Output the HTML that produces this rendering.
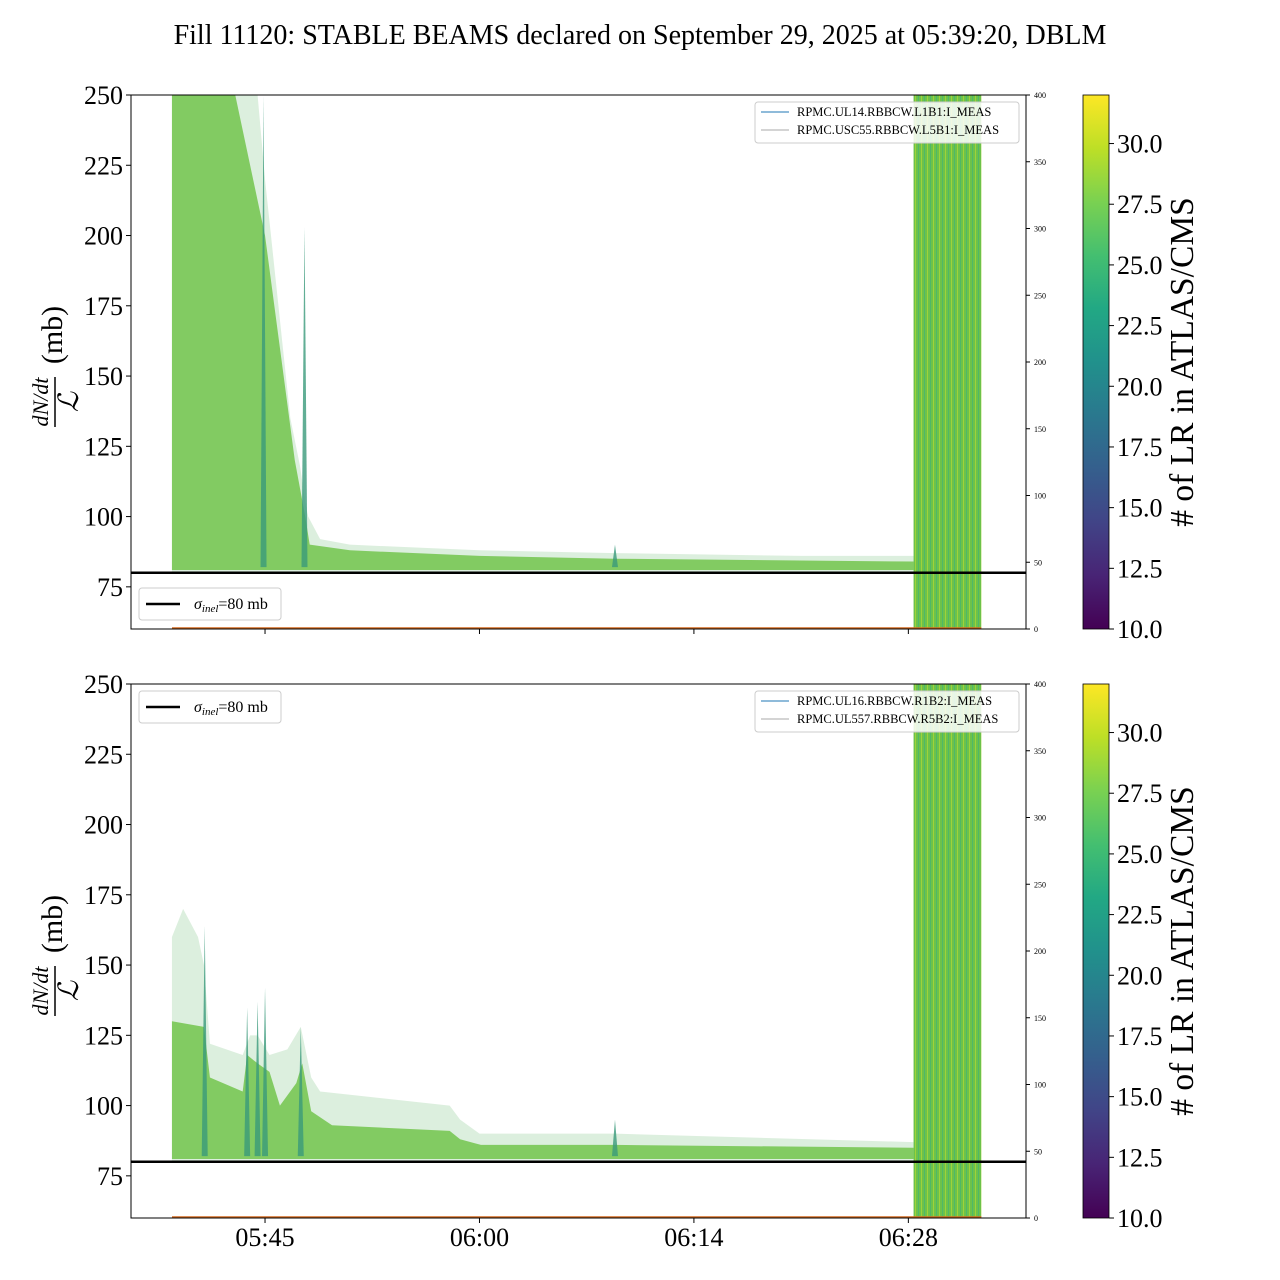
<!DOCTYPE html>
<html><head><meta charset="utf-8"><style>
html,body{margin:0;padding:0;background:#fff}
svg{display:block;font-family:"Liberation Serif",serif}
</style></head><body>
<svg id="fig" width="1280" height="1280" viewBox="0 0 1280 1280" xmlns="http://www.w3.org/2000/svg">
<defs>
<linearGradient id="viridis" x1="0" y1="1" x2="0" y2="0">
<stop offset="0" stop-color="#440154"/><stop offset="0.1" stop-color="#482475"/><stop offset="0.2" stop-color="#414487"/><stop offset="0.3" stop-color="#355f8d"/><stop offset="0.4" stop-color="#2a788e"/><stop offset="0.5" stop-color="#21918c"/><stop offset="0.6" stop-color="#22a884"/><stop offset="0.7" stop-color="#44bf70"/><stop offset="0.8" stop-color="#7ad151"/><stop offset="0.9" stop-color="#bddf26"/><stop offset="1" stop-color="#fde725"/>
</linearGradient>
<pattern id="stripes" width="6" height="10" patternUnits="userSpaceOnUse">
<rect width="6" height="10" fill="#6cc24a"/><rect x="0" width="1" height="10" fill="#4fb868"/><rect x="3" width="1" height="10" fill="#9fd23a"/>
</pattern>
</defs>
<text x="640" y="44" font-size="28" text-anchor="middle">Fill 11120: STABLE BEAMS declared on September 29, 2025 at 05:39:20, DBLM</text>
<g id="p0"></g><g id="p1"></g>
</svg>
<script>
const xTickVals = [45.5, 59.9, 74.3, 88.7];
const xTickLabels = ["05:45", "06:00", "06:14", "06:28"];
const yTicks = [75, 100, 125, 150, 175, 200, 225, 250];
const rightTicks = [0, 50, 100, 150, 200, 250, 300, 350, 400];
const cbarTicks = [10, 12.5, 15, 17.5, 20, 22.5, 25, 27.5, 30];
const sigmaInel = 80;
const bandStart = 89.05, bandEnd = 93.6;
// top panel
const topEnvT = [39.25,45.0,45.5,46.2,46.8,47.2,47.85,48.2,48.4,49.2,51.2,59.9,69,81.5,89.05];
const topEnvV = [250,250,220,185,155,135,118,105,100,92,90,88,87,86,86];
const topCoreT = [39.25,43.5,45.5,46.5,47.5,48.2,48.5,51.2,59.9,69,89.05];
const topCoreV = [250,250,200,160,120,100,90,88,86,85,84];
const topSpikeT = [45.4, 48.15, 69.0];
const topSpikeV = [250, 203, 90];
// bottom panel
const botEnvT = [39.25,40.0,41.0,41.4,41.8,44,44.5,45,45.8,47,47.9,48.6,49.2,57.9,58.6,59.9,69,89.05];
const botEnvV = [160,170,160,150,122,118,125,125,118,120,128,110,105,100,95,90,90,87];
const botCoreT = [39.25,41.4,41.8,44,44.3,45,45.8,46.5,47.6,48.0,48.6,50,57.9,58.6,60,69,89.05];
const botCoreV = [130,128,110,105,118,115,112,100,108,115,98,93,91,88,86,86,85];
const botSpikeT = [41.45, 44.3, 45.0, 45.5, 47.9, 69.0];
const botSpikeV = [164, 135, 137, 142, 128, 95];

const NS="http://www.w3.org/2000/svg";
const X0=131,X1=1026, T0=36.5, T1=96.6;
const xs=t=>X0+(t-T0)/(T1-T0)*(X1-X0);
function mk(tag,attrs,parent){const e=document.createElementNS(NS,tag);for(const k in attrs)e.setAttribute(k,attrs[k]);parent.appendChild(e);return e;}

function panel(g,top,envT,envV,coreT,coreV,spT,spV,legTop,legItems,isTop){
  const Y0=top,Y1=top+534;
  const ys=v=>Y1-(v-60)/(250-60)*(Y1-Y0);
  const cb=v=>Y1-(v-10)/(32-10)*(Y1-Y0);
  const rs=v=>Y1-v/400*(Y1-Y0);
  const clip=mk('clipPath',{id:'c'+top},g);mk('rect',{x:X0,y:Y0,width:X1-X0,height:Y1-Y0},clip);
  const d=mk('g',{'clip-path':'url(#c'+top+')'},g);
  let p='M'+xs(envT[0])+','+ys(80);
  envT.forEach((t,i)=>p+=' L'+xs(t)+','+ys(envV[i]));
  p+=' L'+xs(envT[envT.length-1])+','+ys(80)+'Z';
  const env=mk('path',{d:p,fill:'#9ad2a0','fill-opacity':0.35},d);
  
  
  let q='M'+xs(coreT[0])+','+ys(81);
  coreT.forEach((t,i)=>q+=' L'+xs(t)+','+ys(coreV[i]));
  q+=' L'+xs(coreT[coreT.length-1])+','+ys(81)+'Z';
  const core=mk('path',{d:q,fill:'#72c44c','fill-opacity':0.85},d);
  
  
  spT.forEach((t,i)=>{
    const s=mk('path',{d:`M${xs(t)-3},${ys(82)} L${xs(t)},${ys(spV[i])} L${xs(t)+3},${ys(82)}Z`,fill:'#3a9a7a','fill-opacity':0.8},d);
    
    
  });
  const band=mk('rect',{x:xs(bandStart),y:Y0,width:xs(bandEnd)-xs(bandStart),height:Y1-Y0,fill:'url(#stripes)'},d);
  
  
  const orl=mk('line',{x1:172,x2:xs(bandEnd),y1:Y1-1,y2:Y1-1,stroke:'#d2691e','stroke-width':1.5},d);
  
  
  const sl=mk('line',{x1:X0,x2:X1,y1:ys(sigmaInel),y2:ys(sigmaInel),stroke:'#000','stroke-width':2.5},g);
  
  
  const fr=mk('rect',{x:X0,y:Y0,width:X1-X0,height:Y1-Y0,fill:'none',stroke:'#000','stroke-width':1},g);
  
  
  yTicks.forEach(v=>{
    mk('line',{x1:X0-5,x2:X0,y1:ys(v),y2:ys(v),stroke:'#000'},g);
    const t=mk('text',{x:X0-8,y:ys(v)+9,'font-size':26,'text-anchor':'end'},g);t.textContent=v;
    
    
  });
  xTickVals.forEach((v,i)=>{
    mk('line',{x1:xs(v),x2:xs(v),y1:Y1,y2:Y1+5,stroke:'#000'},g);
    if(!isTop){const t=mk('text',{x:xs(v),y:Y1+28,'font-size':26,'text-anchor':'middle'},g);t.textContent=xTickLabels[i];
    
    }
  });
  rightTicks.forEach(v=>{
    mk('line',{x1:X1,x2:X1+4,y1:rs(v),y2:rs(v),stroke:'#000'},g);
    const t=mk('text',{x:X1+8,y:rs(v)+3,'font-size':8},g);t.textContent=v;
    
    
  });
  const yl=mk('g',{transform:`translate(62,${(Y0+Y1)/2}) rotate(-90)`},g);
  
  
  const n=mk('text',{x:-40,y:-14,'font-size':22,'font-style':'italic','text-anchor':'middle'},yl);n.textContent='dN/dt';
  mk('line',{x1:-65,x2:-15,y1:-7,y2:-7,stroke:'#000','stroke-width':1.5},yl);
  const l=mk('text',{x:-40,y:16,'font-size':28,'font-style':'italic','text-anchor':'middle'},yl);l.textContent='\u2112';
  const mb=mk('text',{x:27,y:0,'font-size':30,'text-anchor':'middle'},yl);mb.textContent='(mb)';
  const cbar=mk('rect',{x:1083,y:Y0,width:26,height:Y1-Y0,fill:'url(#viridis)',stroke:'#000','stroke-width':0.8},g);
  
  
  cbarTicks.forEach(v=>{
    mk('line',{x1:1109,x2:1114,y1:cb(v),y2:cb(v),stroke:'#000'},g);
    const t=mk('text',{x:1117,y:cb(v)+9,'font-size':26},g);t.textContent=v.toFixed(1);
    
    
  });
  const ct=mk('text',{x:0,y:0,'font-size':33.5,'text-anchor':'middle',transform:`translate(1193,${(Y0+Y1)/2}) rotate(-90)`},g);ct.textContent='# of LR in ATLAS/CMS';
  
  
  const sy=legTop;
  const sg=mk('g',{},g);
  
  
  mk('rect',{x:139,y:sy,width:142,height:32,rx:3,fill:'#fff','fill-opacity':0.85,stroke:'#ccc'},sg);
  mk('line',{x1:146,x2:180,y1:sy+16,y2:sy+16,stroke:'#000','stroke-width':2.5},sg);
  const st=mk('text',{x:194,y:sy+21,'font-size':16},sg);
  st.innerHTML='<tspan font-style="italic">σ</tspan><tspan font-style="italic" font-size="11" dy="3">inel</tspan><tspan dy="-3">=80 mb</tspan>';
  const lg=mk('g',{},g);
  
  
  mk('rect',{x:755,y:Y0+7,width:264,height:41,rx:3,fill:'#fff','fill-opacity':0.85,stroke:'#ccc'},lg);
  legItems.forEach((s,i)=>{
    mk('line',{x1:761,x2:789,y1:Y0+17+i*18,y2:Y0+17+i*18,stroke:i?'#aaa':'#1f77b4','stroke-width':1},lg);
    const t=mk('text',{x:797,y:Y0+21+i*18,'font-size':12.5},lg);t.textContent=s;
  });
}
panel(document.getElementById('p0'),95,topEnvT,topEnvV,topCoreT,topCoreV,topSpikeT,topSpikeV,588,["RPMC.UL14.RBBCW.L1B1:I_MEAS","RPMC.USC55.RBBCW.L5B1:I_MEAS"],true);
panel(document.getElementById('p1'),684,botEnvT,botEnvV,botCoreT,botCoreV,botSpikeT,botSpikeV,691,["RPMC.UL16.RBBCW.R1B2:I_MEAS","RPMC.UL557.RBBCW.R5B2:I_MEAS"],false);
document.getElementById('p0');
document.getElementById('p0');
document.getElementById('p1');
document.getElementById('p1');
</script>
</body></html>
